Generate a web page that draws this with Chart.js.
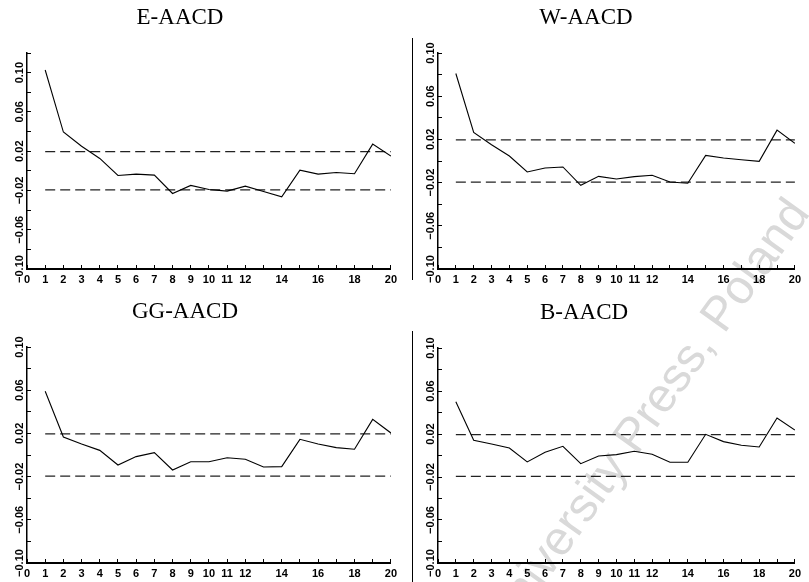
<!DOCTYPE html>
<html>
<head>
<meta charset="utf-8">
<script src="https://cdn.jsdelivr.net/npm/chart.js@4/dist/chart.umd.min.js"></script>
<style>
  body { margin: 0; background: #fff; }
  #page { position: relative; width: 809px; height: 582px; overflow: hidden; background: #fff; }
  #page canvas { position: absolute; }
  .sep { position: absolute; left: 412px; width: 0; border-left: 1px solid #000; }
</style>
</head>
<body>
<div id="page">
  <canvas id="mark" width="809" height="582" style="left:0;top:0"></canvas>
  <canvas id="cE" width="405" height="290" style="left:0;top:0"></canvas>
  <canvas id="cW" width="399" height="290" style="left:410px;top:0"></canvas>
  <canvas id="cGG" width="405" height="292" style="left:0;top:290px"></canvas>
  <canvas id="cB" width="399" height="292" style="left:410px;top:290px"></canvas>
  <div class="sep" style="top:38px;height:242px"></div>
  <div class="sep" style="top:331px;height:251px"></div>
</div>
<script>
/* lags and autocorrelations of the residuals */
const lags = [1, 2, 3, 4, 5, 6, 7, 8, 9, 10, 11, 12, 13, 14, 15, 16, 17, 18, 19, 20];
const acfE = [0.1027, 0.0395, 0.025, 0.0126, -0.0047, -0.0034, -0.0044, -0.0231, -0.0149, -0.019,
              -0.0207, -0.0156, -0.021, -0.0265, 0.0007, -0.0034, -0.0017, -0.003, 0.0272, 0.015];
const acfW = [0.081, 0.0265, 0.015, 0.0046, -0.0102, -0.0065, -0.0055, -0.0225, -0.0142, -0.0166,
              -0.0145, -0.0132, -0.0194, -0.0206, 0.0052, 0.0028, 0.0012, -0.0003, 0.0286, 0.0163];
const acfGG = [0.059, 0.0167, 0.0102, 0.0043, -0.0093, -0.0015, 0.0022, -0.0139, -0.0062, -0.0062,
               -0.0025, -0.004, -0.0111, -0.0108, 0.0145, 0.0102, 0.0068, 0.0053, 0.033, 0.0204];
const acfB = [0.050, 0.0141, 0.0107, 0.007, -0.006, 0.003, 0.0086, -0.0076, -0.0004, 0.0008,
              0.0039, 0.0011, -0.0063, -0.0063, 0.0197, 0.0129, 0.0095, 0.0079, 0.0349, 0.0237];

/* confidence band */
const band = 0.0195;
const bandFrom = 1, bandTo = 20;

/* tick labels */
const xLabels = [0, 1, 2, 3, 4, 5, 6, 7, 8, 9, 10, 11, 12, 14, 16, 18, 20];
const yLabelVals = [0.10, 0.06, 0.02, -0.02, -0.06, -0.10];
const yLabelText = ["0.10", "0.06", "0.02", "\u22120.02", "\u22120.06", "\u22120.10"];

const tickFont = { family: "Liberation Sans, Arial, sans-serif", size: 11, weight: "bold" };

// titles and rotated y labels
const panelText = {
  id: "panelText",
  afterDraw(chart, args, opts) {
    const ctx = chart.ctx;
    const ys = chart.scales.y;
    const left = chart.chartArea.left;
    ctx.save();
    ctx.fillStyle = "#000";
    ctx.font = "23px 'Liberation Serif', 'Times New Roman', serif";
    ctx.textAlign = "center";
    ctx.textBaseline = "alphabetic";
    ctx.fillText(opts.title, opts.tx, opts.ty);

    ctx.font = "bold 11px 'Liberation Sans', Arial, sans-serif";
    ctx.textBaseline = "middle";
    yLabelVals.forEach((v, i) => {
      ctx.save();
      ctx.translate(left - 7, ys.getPixelForValue(v));
      ctx.rotate(-Math.PI / 2);
      ctx.fillText(yLabelText[i], 0, 0);
      ctx.restore();
    });
    ctx.restore();
  }
};

function makePanel(id, title, values, yMax, pad, xh, tx, ty) {
  const pts = lags.map((l, i) => ({ x: l, y: values[i] }));
  const axisGrid = { drawOnChartArea: false, drawTicks: true, tickLength: -4, color: "#000", lineWidth: 1 };
  return new Chart(document.getElementById(id), {
    type: "line",
    data: {
      datasets: [
        { data: pts, borderColor: "#000", borderWidth: 1.1, pointRadius: 0, tension: 0 },
        { data: [{ x: bandFrom, y: band }, { x: bandTo, y: band }], borderColor: "#222",
          borderWidth: 1.2, borderDash: [10, 5], pointRadius: 0 },
        { data: [{ x: bandFrom, y: -band }, { x: bandTo, y: -band }], borderColor: "#222",
          borderWidth: 1.2, borderDash: [10, 5], pointRadius: 0 }
      ]
    },
    options: {
      responsive: false,
      animation: false,
      devicePixelRatio: 1,
      layout: { padding: pad },
      plugins: {
        legend: { display: false },
        tooltip: { enabled: false },
        panelText: { title: title, tx: tx, ty: ty }
      },
      scales: {
        x: {
          type: "linear", min: 0, max: 20,
          afterFit: s => { s.height = xh; },
          ticks: {
            stepSize: 1, autoSkip: false, maxRotation: 0, padding: 8, color: "#000", font: tickFont,
            callback: v => xLabels.includes(v) ? String(v) : ""
          },
          grid: axisGrid,
          border: { color: "#000", width: 2 }
        },
        y: {
          type: "linear", min: -0.10, max: yMax,
          afterFit: s => { s.width = 0; },
          ticks: { stepSize: 0.02, display: false },
          grid: axisGrid,
          border: { color: "#000", width: 1.5 }
        }
      }
    },
    plugins: [panelText]
  });
}

makePanel("cE", "E-AACD", acfE, 0.12, { left: 27, right: 14, top: 53, bottom: 1 }, 20, 180, 24);
makePanel("cW", "W-AACD", acfW, 0.10, { left: 28, right: 7, top: 53, bottom: 1 }, 20, 176, 24);
makePanel("cGG", "GG-AACD", acfGG, 0.10, { left: 27, right: 14, top: 57, bottom: 1 }, 18, 185, 28);
makePanel("cB", "B-AACD", acfB, 0.10, { left: 28, right: 7, top: 58, bottom: 1 }, 18, 174, 29);

// faint publisher watermark behind the panels
(function () {
  const ctx = document.getElementById("mark").getContext("2d");
  ctx.save();
  ctx.translate(506, 638);
  ctx.rotate(-54.3 * Math.PI / 180);
  ctx.font = "48px 'Liberation Sans', Arial, sans-serif";
  ctx.fillStyle = "#d9d9d9";
  ctx.textAlign = "left";
  ctx.textBaseline = "alphabetic";
  ctx.fillText("University Press, Poland", 0, 0);
  ctx.restore();
})();
</script>
</body>
</html>
